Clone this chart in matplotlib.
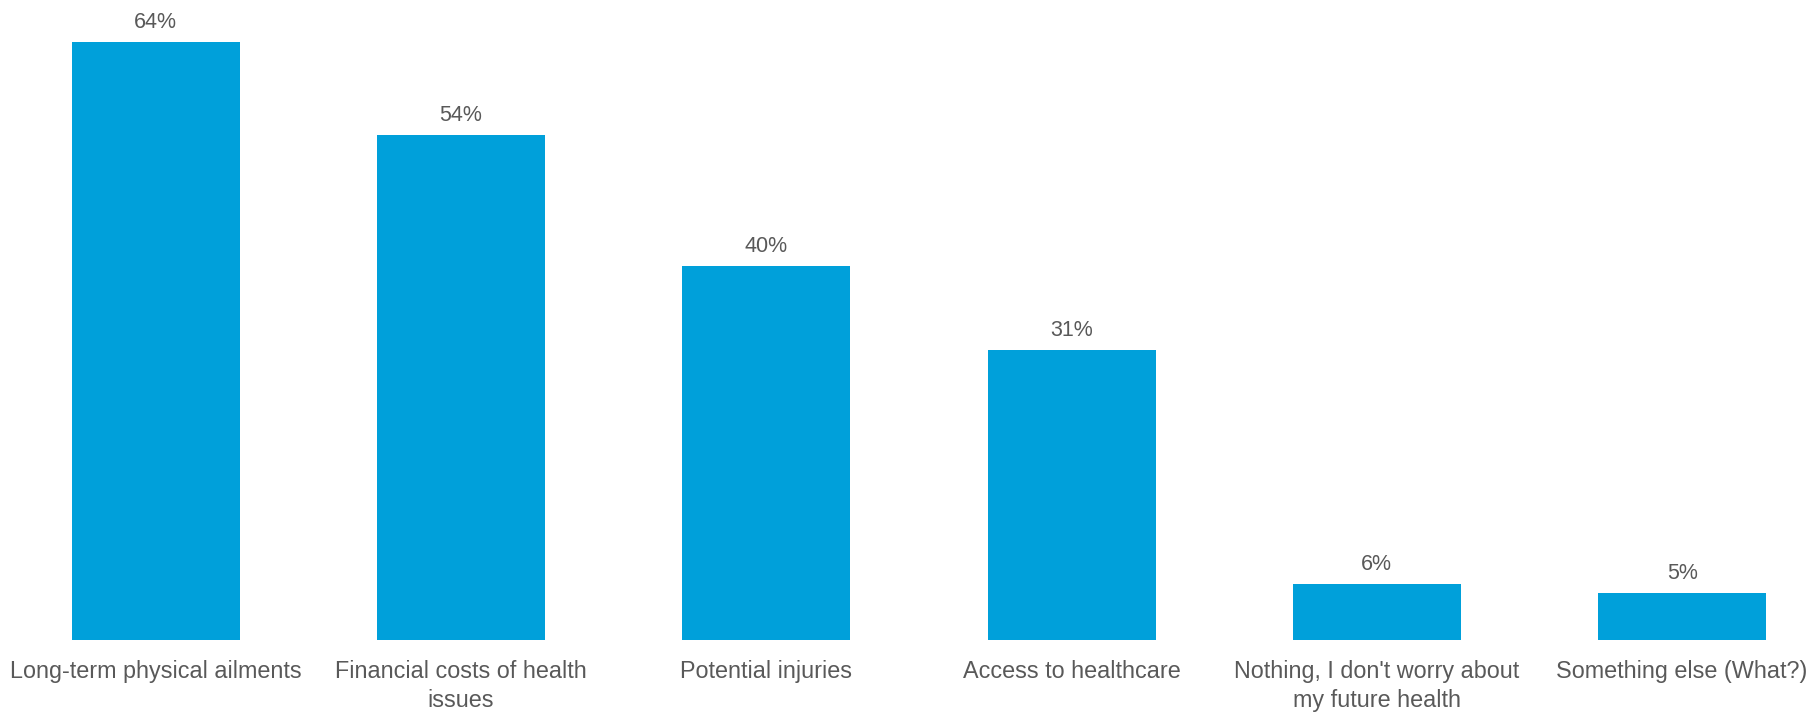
import matplotlib.pyplot as plt

# survey answers and share of respondents (%)
categories = [
    "Long-term physical ailments",
    "Financial costs of health\nissues",
    "Potential injuries",
    "Access to healthcare",
    "Nothing, I don't worry about\nmy future health",
    "Something else (What?)",
]
shares = [64, 54, 40, 31, 6, 5]

bar_color = "#00A0DA"
text_color = "#595959"

plt.rcParams['font.family'] = ['Liberation Sans', 'DejaVu Sans']

fig = plt.figure(figsize=(18.14, 7.13), dpi=100)
ax = fig.add_axes([0, 0.1024, 1, 0.8976])

x = list(range(len(categories)))
bars = ax.bar(x, shares, width=0.55, color=bar_color)

# value labels above each bar
for xi, v in zip(x, shares):
    ax.annotate("%d%%" % v, (xi, v), xytext=(0, 14), textcoords='offset points',
                ha='center', va='center', fontsize=15.5, color=text_color)

ax.set_xlim(-0.51, 5.432)
ax.set_ylim(0, 68.45)
ax.set_xticks(x)
ax.set_xticklabels(categories, fontsize=16.8, color=text_color, linespacing=1.3)
ax.tick_params(axis='x', length=0, pad=14.5)
ax.set_yticks([])
for s in ax.spines.values():
    s.set_visible(False)

fig.savefig('out.png', dpi=100)
